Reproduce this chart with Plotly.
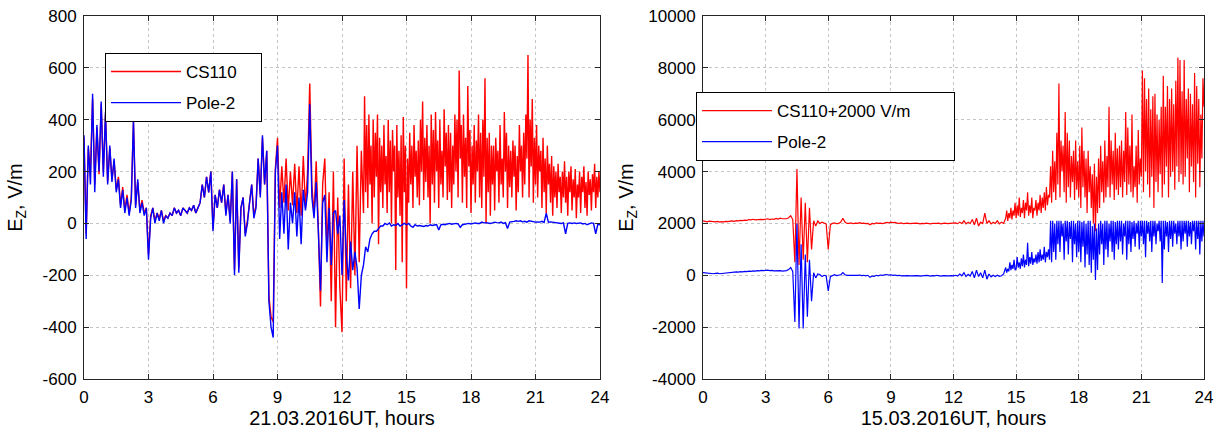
import numpy as np
import plotly.graph_objects as go

hour_ticks = [0, 3, 6, 9, 12, 15, 18, 21, 24]

# 21.03.2016, V/m
# CS110: 0.1 h samples up to 12.9 h, then 0.05 h samples 13.0..24.0 h
cs110_21 = [
    330, -40, 290, 200, 480, 150, 370, 190, 460, 200,
    420, 160, 290, 170, 240, 130, 180, 70, 140, 50,
    110, 40, 100, 390, 70, 160, 50, 90, 40, 60,
    -120, 30, 60, 10, 40, 20, 50, 10, 30, 20,
    40, 30, 60, 40, 50, 30, 60, 50, 40, 60,
    50, 70, 40, 60, 80, 150, 100, 180, 120, 200,
    -20, 110, 60, 130, 80, 150, 40, 110, 10, 200,
    -180, 170, -170, 60, 100, -40, 10, 80, 150, 30,
    70, 250, 110, 330, 150, 280, -280, -360, -380, 210,
    330, 60, 220, 80, 250, 50, 200, 70, 230, 40,
    220, 30, 260, 60, 200, 540, 150, 30, 240, -20,
    -320, 150, 250, -100, 120, -300, 200, -400, 100, -250,
    -420, 250, -300, 150, -250, 200, -200, 300, -150, 280,
    # 13.0 h ->
    40, 490, 120, 380, 60, 420, 150, 300, 0, 400, 100, 350, 180, 420, -80, 330, 120, 300, 60, 380,
    150, 260, 40, 400, 120, 320, 0, 360, 200, 300, -180, 380, 100, 280, 30, 340, -150, 410, 120, 300,
    -250, 250, 80, 350, 150, 300, 60, 380, 180, 280, 100, 320, 70, 400, 200, 470, 90, 330, 160, 380,
    100, 300, 0, 420, 150, 360, 80, 430, 200, 320, 60, 400, 150, 280, 100, 440, 220, 350, 90, 380,
    120, 350, 60, 300, 150, 420, 200, 400, 100, 590, 250, 380, 80, 420, 180, 330, 60, 530, 220, 360,
    40, 300, 150, 380, 80, 320, 200, 420, 100, 350, 60, 400, 180, 560, 0, 330, 120, 350, 30, 300,
    150, 300, 50, 330, 200, 280, 80, 380, 150, 250, 100, 430, 200, 350, 60, 300, 140, 280, 100, 320,
    180, 300, 50, 260, 120, 380, 200, 300, 100, 350, 150, 420, 250, 650, 100, 400, 220, 480, 80, 330,
    150, 380, 100, 300, 200, 280, 60, 330, 120, 250, 40, 300, 150, 230, 80, 260, 30, 220, 100, 200,
    60, 230, 120, 180, 40, 200, 100, 240, 80, 180, 30, 200, 120, 220, 50, 170, 100, 210, 20, 150,
    100, 200, 40, 180, 120, 220, 60, 160, 30, 200, 110, 170, 50, 190, 120, 230, 60, 180, 100, 200,
    120,
]
# Pole-2: 0.1 h samples 0..24 h
pole2_21 = [
    340, -60, 300, 150, 500, 120, 380, 200, 470, 180,
    430, 150, 300, 160, 250, 120, 170, 60, 130, 40,
    100, 30, 90, 400, 60, 170, 40, 80, 30, 60,
    -140, 20, 60, 0, 40, 10, 50, 0, 30, 20,
    40, 30, 60, 40, 50, 30, 60, 50, 40, 60,
    50, 70, 40, 60, 80, 150, 100, 180, 120, 200,
    -30, 110, 60, 130, 80, 150, 30, 110, 0, 200,
    -200, 170, -190, 60, 100, -50, 0, 80, 150, 20,
    60, 250, 100, 340, 150, 280, -300, -400, -440, 200,
    300, -60, 120, -40, 150, -100, 80, 0, 120, -50,
    100, -80, 130, 50, 120, 460, 100, 20, 160, -30,
    -260, 80, 110, -150, 60, -160, 40, 50, -40, 30,
    -200, 90, -120, -220, -70, -180, -110, -170, -330, -200,
    -160, -90, -110, -60, -40, -30, -30, -20, -10, -10,
    0, -5, 2, -10, -5, -8, 0, -10, -5, 0,
    -5, 0, -10, -15, -5, -10, -8, -10, -12, -8,
    -10, -5, -8, -6, -4, -25, -5, -3, -5, -2,
    0, -3, -2, 0, -2, -15, -5, -3, -2, 0,
    -2, 0, 2, 0, 0, 5, 2, 3, 0, 0,
    2, 5, 3, 2, 5, 0, 3, -20, 5, 8,
    8, 10, 8, 10, 6, 8, 5, 10, 8, 6,
    5, 6, 5, 8, 4, 40, 5, 6, 5, 2,
    3, 2, 0, 2, -40, 0, 2, 0, 2, 0,
    0, 2, -2, 0, -5, 0, 2, 0, -40, -3,
    -5,
]
ticks_21 = [-600, -400, -200, 0, 200, 400, 600, 800]
ticklabels_21 = ['-600', '-400', '-200', '0', '200', '400', '600', '800']

# 15.03.2016, V/m (CS110 already shifted by +2000 V/m)
# both: 0.1 h samples up to 14.4 h, then 0.05 h samples 14.5..24.0 h
cs110_15 = [
    2100, 2080, 2060, 2090, 2070, 2050, 2060, 2080, 2050, 2070,
    2060, 2080, 2070, 2090, 2100, 2080, 2110, 2100, 2120, 2110,
    2130, 2120, 2150, 2140, 2160, 2140, 2150, 2170, 2160, 2150,
    2160, 2180, 2150, 2170, 2160, 2190, 2170, 2200, 2180, 2190,
    2180, 2220, 2300, 2150, 500, 4100, 400, 3000, 600, 2800,
    500, 2600, 1000, 2100, 1900, 2100, 2000, 2050, 2000, 1980,
    1000, 1950, 2000, 2020, 1990, 2000, 2050, 2200, 2050, 2000,
    2000, 2020, 1990, 2010, 2000, 2030, 2000, 2010, 1990, 2000,
    1950, 2000, 1980, 2020, 2000, 2010, 1990, 2030, 2040, 2020,
    2050, 2030, 2040, 2010, 2000, 2020, 1990, 2000, 2010, 1990,
    2000, 1990, 2010, 2000, 1980, 2000, 1990, 2010, 2000, 1980,
    2000, 1990, 2000, 2010, 1980, 2000, 2010, 1990, 2000, 2010,
    2000, 2020, 1990, 2050, 2000, 2100, 1980, 2050, 2000, 2150,
    1950, 2200, 1900, 2050, 2000, 2400, 2000, 2100, 1980, 2050,
    2000, 2100, 1980, 2050, 2000,
    # 14.5 h ->
    2200, 2500, 2100, 2400, 2200, 2600, 2150, 2500, 2300, 2800,
    2200, 2700, 2300, 3000, 2250, 2600, 2400, 2900, 2200, 2800, 2500, 3200, 2300, 2700, 2400, 3000, 2200, 2600, 2500, 2900,
    2300, 2800, 2500, 3100, 2400, 3000, 2600, 3200, 2500, 3400, 2700, 3100, 3000, 4200, 2800, 4800, 3200, 4400, 2900, 5500,
    3500, 7400, 3000, 5200, 4000, 5000, 3200, 6300, 2800, 5500, 3400, 5200, 3000, 4600, 3600, 4800, 2900, 5200, 3300, 4400,
    3000, 5000, 2600, 5700, 3400, 4800, 3000, 4500, 2400, 4800, 3200, 4200, 2600, 3900, 2000, 4300, 1700, 3800, 2400, 4500,
    2600, 5000, 3200, 4400, 2800, 5200, 3000, 4600, 3400, 6500, 3000, 5200, 3500, 4800, 2900, 5500, 3300, 4900, 3100, 5000,
    3400, 5200, 3000, 4800, 3600, 6300, 3100, 5700, 3500, 5000, 3200, 6200, 3000, 4200, 3400, 5000, 2800, 5600, 3500, 4500,
    3800, 7900, 3200, 7600, 4000, 6800, 3500, 7200, 3000, 6400, 3800, 6900, 2600, 7000, 3600, 6200, 3200, 6000, 3900, 6500,
    3000, 7700, 3500, 6500, 4200, 7300, 3000, 6800, 3800, 7200, 4000, 6600, 3300, 7500, 4200, 8400, 3600, 8300, 3900, 7100,
    3500, 8300, 3800, 6800, 4500, 7200, 3200, 7000, 4200, 6600, 3600, 7800, 3000, 7300, 4300, 6800, 3400, 6200, 4500, 7600,
    6500,
]
pole2_15 = [
    100, 90, 80, 90, 70, 60, 70, 80, 60, 70,
    80, 90, 100, 110, 120, 110, 130, 120, 140, 130,
    150, 140, 160, 150, 170, 160, 180, 170, 190, 180,
    190, 200, 180, 190, 170, 180, 170, 180, 160, 170,
    180, 220, 300, 150, -1800, 2000, -2050, 1200, -2050, 800,
    -1600, 600, -1000, 100, -100, 50, 30, -50, 0, -20,
    -600, -50, 0, 20, -10, 0, 20, 100, 20, 0,
    0, -10, 0, -20, 0, 10, -10, 0, -20, 0,
    -80, -30, -40, 0, -20, 10, 0, 20, 30, 10,
    20, 0, 10, -10, 0, -20, -10, 0, -10, -20,
    -10, -20, 0, -10, -30, -10, -20, 0, -10, -30,
    -10, -20, 0, -10, -30, -10, -20, -10, -20, -10,
    -20, 0, -30, 50, -20, 100, -50, 40, -30, 150,
    -100, 200, -50, 100, -100, 200, -150, 50, -60, 0,
    -50, 0, -40, -20, 50,
    # 14.5 h ->
    300, 100, 250, 150, 500, 200, 400, 250, 600, 200,
    250, 700, 300, 500, 250, 650, 350, 800, 300, 600, 400, 1250, 350, 700, 450, 900, 400, 650, 500, 800,
    450, 900, 500, 1000, 550, 800, 600, 1100, 500, 900, 700, 1000, 600, 2100, 500, 2100, 900, 2000, 600, 2100,
    1200, 2100, 900, 2100, 1500, 2000, 600, 2100, 1300, 2100, 800, 2050, 1400, 2100, 500, 2100, 1200, 2000, 700, 2100,
    900, 2100, 500, 2050, 1100, 2100, 300, 2000, 800, 2100, 400, 2100, 100, 1900, 600, 2000, -180, 1800, 200, 2000,
    800, 2100, 1200, 2000, 400, 2100, 1000, 2100, 700, 2000, 1300, 2100, 900, 2100, 600, 2050, 1200, 2100, 1000, 2100,
    1300, 2100, 800, 2000, 1500, 2100, 600, 2100, 1200, 2100, 900, 2050, 1400, 2100, 1100, 2000, 1600, 2100, 1000, 2100,
    1500, 2100, 1200, 2100, 700, 2100, 1600, 2050, 1300, 2100, 900, 2100, 1500, 2100, 1200, 2000, 1700, 2100, 1300, 2100,
    -300, 2100, 1000, 2100, 1500, 2050, 900, 2100, 1400, 2100, 1100, 2100, 1600, 2000, 1200, 2100, 1500, 2100, 1000, 2100,
    1300, 2100, 1600, 2100, 1100, 2100, 1500, 2050, 1200, 2100, 1700, 2100, 1000, 2100, 1400, 2100, 800, 2100, 1300, 2100,
    1500,
]
ticks_15 = [-4000, -2000, 0, 2000, 4000, 6000, 8000, 10000]
ticklabels_15 = ['-4000', '-2000', '0', '2000', '4000', '6000', '8000', '10000']

# sample times for each record
t_cs110_21 = np.round(np.concatenate([np.arange(130) * 0.1, 13 + np.arange(221) * 0.05]), 2)
t_pole2_21 = np.round(np.arange(241) * 0.1, 2)
t_15 = np.round(np.concatenate([np.arange(145) * 0.1, 14.5 + np.arange(191) * 0.05]), 2)
assert len(t_cs110_21) == len(cs110_21)
assert len(t_pole2_21) == len(pole2_21)
assert len(t_15) == len(cs110_15) == len(pole2_15)

FONT = 'Liberation Sans, Arial, sans-serif'
W, H = 1218, 435
ML, MR, MT, MB = 84, 14, 16, 56
PW, PH = W - ML - MR, H - MT - MB


def px_x(px):
    return (px - ML) / PW


def px_y(py):
    return 1 - (py - MT) / PH


fig = go.Figure()
fig.add_trace(go.Scatter(x=t_cs110_21, y=cs110_21, mode='lines', name='CS110' + '\u00a0' * 4,
                         line=dict(color='#ff0000', width=1.4),
                         xaxis='x', yaxis='y', legend='legend', legendgroup='a'))
fig.add_trace(go.Scatter(x=t_pole2_21, y=pole2_21, mode='lines', name='Pole-2',
                         line=dict(color='#0000ff', width=1.4),
                         xaxis='x', yaxis='y', legend='legend', legendgroup='b'))
fig.add_trace(go.Scatter(x=t_15, y=cs110_15, mode='lines', name='CS110+2000 V/m' + '\u00a0' * 8,
                         line=dict(color='#ff0000', width=1.2),
                         xaxis='x2', yaxis='y2', legend='legend2', legendgroup='c'))
fig.add_trace(go.Scatter(x=t_15, y=pole2_15, mode='lines', name='Pole-2',
                         line=dict(color='#0000ff', width=1.2),
                         xaxis='x2', yaxis='y2', legend='legend2', legendgroup='d'))

axis_style = dict(
    showline=True, mirror='ticks', linecolor='#262626', linewidth=1,
    ticks='inside', ticklen=5, tickcolor='#262626', ticklabelstandoff=3,
    showgrid=True, gridcolor='#c4c4c4', griddash='dot', gridwidth=1,
    zeroline=False, automargin=False, tickfont=dict(size=17, color='black'),
)

legend_style = dict(
    xanchor='left', yanchor='top', bgcolor='white',
    bordercolor='black', borderwidth=1,
    font=dict(size=17), tracegroupgap=6, itemwidth=70,
)

fig.update_layout(
    width=W, height=H,
    margin=dict(l=ML, r=MR, t=MT, b=MB, autoexpand=False),
    paper_bgcolor='white', plot_bgcolor='white',
    font=dict(family=FONT, size=17, color='black'),
    xaxis=dict(domain=[px_x(84), px_x(600)], range=[0, 24], tickvals=hour_ticks,
               title=dict(text='21.03.2016UT, hours', standoff=2), anchor='y', **axis_style),
    yaxis=dict(domain=[0, 1], range=[-600, 800], tickvals=ticks_21, ticktext=ticklabels_21,
               title=dict(text='E<sub>Z</sub>, V/m', standoff=14), anchor='x', **axis_style),
    xaxis2=dict(domain=[px_x(703), px_x(1204)], range=[0, 24], tickvals=hour_ticks,
                title=dict(text='15.03.2016UT, hours', standoff=2), anchor='y2', **axis_style),
    yaxis2=dict(domain=[0, 1], range=[-4000, 10000], tickvals=ticks_15, ticktext=ticklabels_15,
                title=dict(text='E<sub>Z</sub>, V/m', standoff=9), anchor='x2', **axis_style),
    legend=dict(x=px_x(105), y=px_y(53), **legend_style),
    legend2=dict(x=px_x(696), y=px_y(92), **legend_style),
    showlegend=True,
)

# page body has a default 8px margin; drop it so the figure sits at the window origin
fig.write_html('out.html', config={'displayModeBar': False},
               post_script="document.body.style.margin='0px';")
